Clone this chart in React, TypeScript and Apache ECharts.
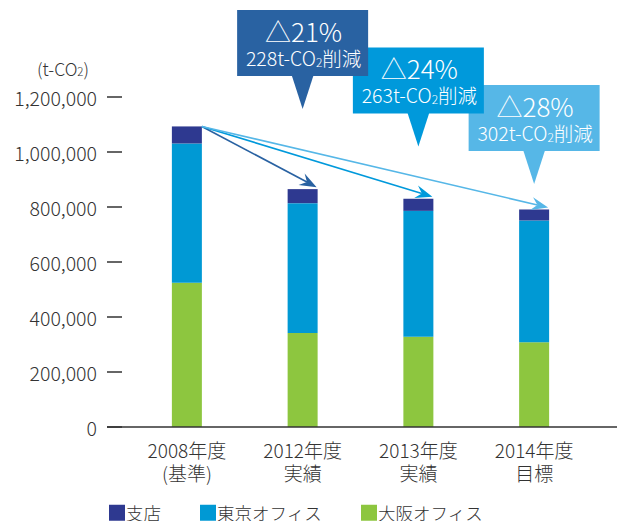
import React, { useEffect, useRef } from "react";
import * as echarts from "echarts";

const categories = ["2008年度\n(基準)", "2012年度\n実績", "2013年度\n実績", "2014年度\n目標"];
const seriesNames = ["支店", "東京オフィス", "大阪オフィス"];
const branchValues = [62000, 51000, 44000, 40000];
const tokyoValues = [506000, 472000, 458000, 443000];
const osakaValues = [525000, 342000, 328000, 308000];
const yMin = 0;
const yMax = 1200000;
const yInterval = 200000;
const reductionPct = ["21", "24", "28"];
const reductionAmt = ["228", "263", "302"];

const FONT = "'Noto Sans CJK JP', 'Noto Sans', sans-serif";
const FW = 300;
const TEXT = "#333333";
const C_BRANCH = "#2e3990";
const C_TOKYO = "#0099d4";
const C_OSAKA = "#8dc63f";
const CALLOUT = ["#2962a2", "#0099db", "#56b7e7"];

export default function App() {
  const ref = useRef<HTMLDivElement>(null);
  useEffect(() => {
    if (!ref.current) return;
    const chart = echarts.init(ref.current, null, { renderer: "svg" });
    const mk = (name: string, data: number[], color: string) => ({
      name,
      type: "bar",
      stack: "total",
      barWidth: 30,
      data,
      itemStyle: { color },
      emphasis: { disabled: true },
    });
    chart.setOption({
      animation: false,
      textStyle: { fontFamily: FONT, fontWeight: FW },
      grid: { left: 129, right: 25, top: 97, bottom: 94, containLabel: false },
      legend: {
        data: seriesNames,
        left: 109,
        top: 504,
        padding: 0,
        itemWidth: 16,
        itemHeight: 16,
        itemGap: 39,
        icon: "rect",
        textStyle: { fontSize: 17.5, color: TEXT, fontFamily: FONT, fontWeight: FW, padding: [0, 0, 0, -4] },
      },
      xAxis: {
        type: "category",
        data: categories,
        axisLine: { show: false },
        axisTick: { show: false },
        axisLabel: { fontSize: 19, lineHeight: 23, color: TEXT, margin: 11, fontFamily: FONT, fontWeight: FW },
      },
      yAxis: {
        type: "value",
        min: yMin,
        max: yMax,
        interval: yInterval,
        offset: 7,
        splitLine: { show: false },
        axisLine: { show: false },
        axisTick: { show: true, length: 15, lineStyle: { color: TEXT, width: 1.5 } },
        axisLabel: {
          fontSize: 19.5,
          color: TEXT,
          margin: 25,
          fontFamily: FONT,
          fontWeight: FW,
          formatter: (v: number) => v.toLocaleString("en-US"),
        },
      },
      series: [
        mk(seriesNames[2], osakaValues, C_OSAKA),
        mk(seriesNames[1], tokyoValues, C_TOKYO),
        mk(seriesNames[0], branchValues, C_BRANCH),
      ],
    });

    const totals = categories.map((_, i) => branchValues[i] + tokyoValues[i] + osakaValues[i]);
    const px = (i: number, v: number) => chart.convertToPixel({ gridIndex: 0 }, [i, v]) as number[];
    const half = 15;
    const graphics: any[] = [];

    const base = px(0, 0);
    graphics.push({
      type: "line",
      shape: { x1: 107, y1: base[1], x2: 617, y2: base[1] },
      style: { stroke: TEXT, lineWidth: 1.5 },
      z: 10,
    });
    graphics.push({
      type: "text",
      x: 89,
      y: 68,
      style: {
        text: "{n|(t-CO}{sub|2}{n|)}",
        fill: TEXT,
        align: "right",
        verticalAlign: "middle",
        rich: {
          n: { fontSize: 17.5, lineHeight: 18, fill: TEXT, fontFamily: FONT, fontWeight: FW },
          sub: { fontSize: 11.5, lineHeight: 12, verticalAlign: "bottom", fill: TEXT, fontFamily: FONT, fontWeight: FW },
        },
      },
      z: 10,
    });

    // arrows
    const start = px(0, totals[0]);
    const sx = start[0] + half;
    const sy = start[1];
    for (let k = 1; k < 4; k++) {
      const e = px(k, totals[k]);
      const ex = e[0] + half - 1;
      const ey = e[1] - 2;
      const ang = Math.atan2(ey - sy, ex - sx);
      const L = 17, W = 6.5, N = 11;
      const cos = Math.cos(ang), sin = Math.sin(ang);
      const bx = ex - L * cos, by = ey - L * sin;
      const nx = ex - N * cos, ny = ey - N * sin;
      const color = CALLOUT[k - 1];
      graphics.push({
        type: "line",
        shape: { x1: sx, y1: sy, x2: nx, y2: ny },
        style: { stroke: color, lineWidth: 1.6 },
        z: 20,
      });
      graphics.push({
        type: "polygon",
        shape: {
          points: [
            [ex, ey],
            [bx - W * sin, by + W * cos],
            [nx, ny],
            [bx + W * sin, by - W * cos],
          ],
        },
        style: { fill: color },
        z: 20,
      });
    }

    // callouts (drawn so the first one lies on top)
    for (let k = 3; k >= 1; k--) {
      const cx = px(k, 0)[0];
      const top = 10 + (k - 1) * 37.5;
      const w = 131, h = 66;
      const color = CALLOUT[k - 1];
      const z = 40 - k * 3;
      graphics.push({
        type: "rect",
        shape: { x: cx - w / 2, y: top, width: w, height: h },
        style: { fill: color },
        z,
      });
      graphics.push({
        type: "polygon",
        shape: { points: [[cx - 11, top + h - 1], [cx + 11, top + h - 1], [cx, top + h + 33]] },
        style: { fill: color },
        z,
      });
      graphics.push({
        type: "text",
        x: cx + 1,
        y: top + 20,
        style: {
          text: "△" + reductionPct[k - 1] + "%",
          fontSize: 26,
          lineHeight: 26,
          fill: "#ffffff",
          fontFamily: FONT,
          fontWeight: FW,
          align: "center",
          verticalAlign: "middle",
        },
        z: z + 1,
      });
      graphics.push({
        type: "text",
        x: cx + 1,
        y: top + 47,
        style: {
          text: "{n|" + reductionAmt[k - 1] + "t-CO}{sub|2}{n|削減}",
          fill: "#ffffff",
          align: "center",
          verticalAlign: "middle",
          rich: {
            n: { fontSize: 19.5, lineHeight: 20, fill: "#ffffff", fontFamily: FONT, fontWeight: FW },
            sub: { fontSize: 12, lineHeight: 12, verticalAlign: "bottom", fill: "#ffffff", fontFamily: FONT, fontWeight: FW },
          },
        },
        z: z + 1,
      });
    }

    chart.setOption({ graphic: graphics });
    return () => chart.dispose();
  }, []);
  return <div ref={ref} style={{ width: 617, height: 521, position: "absolute", left: 0, top: 0 }} />;
}
